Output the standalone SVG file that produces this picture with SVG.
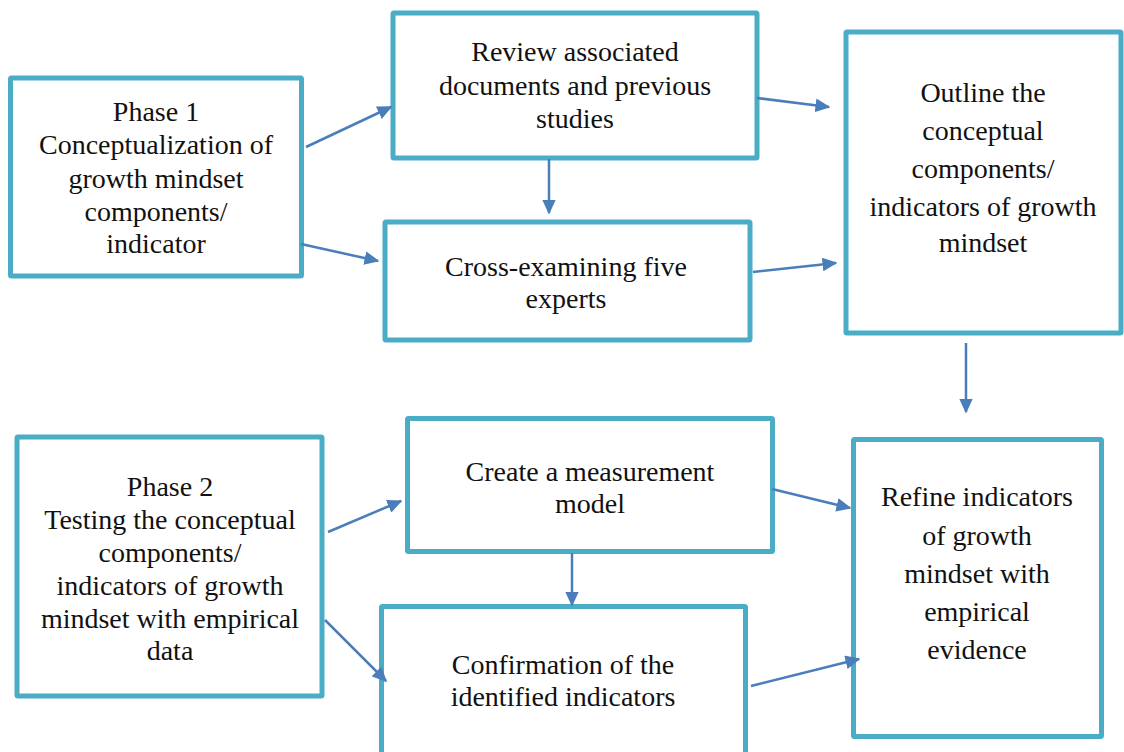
<svg xmlns="http://www.w3.org/2000/svg" width="1124" height="752" viewBox="0 0 1124 752">
<style>
.box{fill:#fff;stroke:#4BACC6;stroke-width:5}
.t{font-family:'Liberation Serif','DejaVu Serif','Times New Roman',serif;font-size:28px;fill:#111;text-anchor:middle}
.c{stroke:#4A7EBB;stroke-width:2.5;fill:none;marker-end:url(#ah)}
</style>
<defs>
<marker id="ah" viewBox="0 0 10 10" refX="9" refY="5" markerWidth="6" markerHeight="5.5" orient="auto" markerUnits="strokeWidth" preserveAspectRatio="none">
<path d="M0,0 L10,5 L0,10 z" fill="#4A7EBB"/>
</marker>
</defs>
<rect width="1124" height="752" fill="#fff"/>
<g id="phase1">
<rect class="box" x="10.5" y="78" width="291" height="198" rx="1"/>
<text class="t"><tspan x="156" y="121">Phase 1</tspan><tspan x="156" y="154">Conceptualization of</tspan><tspan x="156" y="188">growth mindset</tspan><tspan x="156" y="221">components/</tspan><tspan x="156" y="253">indicator</tspan></text>
</g>
<g id="review">
<rect class="box" x="393" y="13" width="364" height="145" rx="1"/>
<text class="t"><tspan x="575" y="61">Review associated</tspan><tspan x="575" y="95">documents and previous</tspan><tspan x="575" y="128">studies</tspan></text>
</g>
<g id="cross">
<rect class="box" x="385" y="222" width="365" height="118" rx="1"/>
<text class="t"><tspan x="566" y="276">Cross-examining five</tspan><tspan x="566" y="308">experts</tspan></text>
</g>
<g id="outline">
<rect class="box" x="846" y="32" width="275" height="301" rx="1"/>
<text class="t"><tspan x="983" y="102">Outline the</tspan><tspan x="983" y="140">conceptual</tspan><tspan x="983" y="178">components/</tspan><tspan x="983" y="216">indicators of growth</tspan><tspan x="983" y="252">mindset</tspan></text>
</g>
<g id="phase2">
<rect class="box" x="17" y="437" width="305" height="259" rx="1"/>
<text class="t"><tspan x="170" y="496">Phase 2</tspan><tspan x="170" y="529">Testing the conceptual</tspan><tspan x="170" y="562">components/</tspan><tspan x="170" y="595">indicators of growth</tspan><tspan x="170" y="628">mindset with empirical</tspan><tspan x="170" y="660">data</tspan></text>
</g>
<g id="create">
<rect class="box" x="407.5" y="418.5" width="365" height="133" rx="1"/>
<text class="t"><tspan x="590" y="481">Create a measurement</tspan><tspan x="590" y="513">model</tspan></text>
</g>
<g id="confirm">
<rect class="box" x="381.5" y="606.5" width="364" height="160" rx="1"/>
<text class="t"><tspan x="563" y="674">Confirmation of the</tspan><tspan x="563" y="706">identified indicators</tspan></text>
</g>
<g id="refine">
<rect class="box" x="853.5" y="439.5" width="248" height="297" rx="1"/>
<text class="t"><tspan x="977" y="506">Refine indicators</tspan><tspan x="977" y="545">of growth</tspan><tspan x="977" y="583">mindset with</tspan><tspan x="977" y="621">empirical</tspan><tspan x="977" y="659">evidence</tspan></text>
</g>
<g id="connectors">
<line class="c" x1="306" y1="147" x2="391" y2="107"/>
<line class="c" x1="301" y1="244" x2="378" y2="261"/>
<line class="c" x1="549" y1="159" x2="549" y2="213"/>
<line class="c" x1="757" y1="98" x2="829" y2="107"/>
<line class="c" x1="753" y1="272" x2="836" y2="263"/>
<line class="c" x1="966" y1="343" x2="966" y2="412"/>
<line class="c" x1="328" y1="532" x2="401" y2="501"/>
<line class="c" x1="325" y1="620" x2="386" y2="681"/>
<line class="c" x1="772" y1="489" x2="850" y2="508"/>
<line class="c" x1="572" y1="553" x2="572" y2="605"/>
<line class="c" x1="751" y1="686" x2="859" y2="659"/>
</g>
</svg>
